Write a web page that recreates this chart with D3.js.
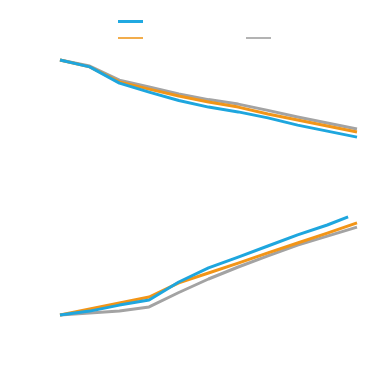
<!DOCTYPE html>
<html>
<head>
<meta charset="utf-8">
<script src="https://cdn.jsdelivr.net/npm/d3@7"></script>
<style>
  body { margin: 0; background: #fff; }
</style>
</head>
<body>
<div id="chart"></div>
<script>
const WIDTH = 376
const HEIGHT = 386

// x positions (years)
const years = [2000, 2002, 2004, 2006, 2008, 2010, 2012, 2014, 2016, 2018, 2020]
const blueUpYears = [2000, 2002, 2004, 2006, 2008, 2010, 2012, 2014, 2016, 2018, 2019.4]

// falling group
const grayDown = [100, 98, 93.3, 91, 88.7, 86.8, 85.3, 83.2, 81, 79, 77]
const orangeDown = [100, 97.7, 92.7, 90.3, 88, 86, 84.3, 82, 80, 78, 76]
const blueDown = [100, 97.7, 92.3, 89.3, 86.5, 84.3, 82.7, 80.7, 78.3, 76.3, 74.3]

// rising group
const grayUp = [15, 15.7, 16.3, 17.7, 22.5, 27, 31, 34.7, 38.3, 41.3, 44.3]
const orangeUp = [15, 17, 19, 21, 25.7, 29, 32.3, 35.7, 39, 42.3, 45.7]
const blueUp = [15, 16.3, 18.3, 20, 26, 30.7, 34.3, 38, 41.7, 45, 47.7]

const colors = { gray: '#a3a3a3', orange: '#f29517', blue: '#1ea6de' }

const series = [
  { key: 'gray', xs: years, ys: grayDown },
  { key: 'gray', xs: years, ys: grayUp },
  { key: 'orange', xs: years, ys: orangeDown },
  { key: 'orange', xs: years, ys: orangeUp },
  { key: 'blue', xs: years, ys: blueDown },
  { key: 'blue', xs: blueUpYears, ys: blueUp }
]

const svg = d3.select('#chart')
  .append('svg')
  .attr('width', WIDTH)
  .attr('height', HEIGHT)

const x = d3.scaleLinear().domain([2000, 2020]).range([60, 357])
const y = d3.scaleLinear().domain([0, 100]).range([360, 60])

const line = d3.line()
  .x(d => x(d[0]))
  .y(d => y(d[1]))
  .curve(d3.curveLinear)

svg.selectAll('.line')
  .data(series)
  .enter()
  .append('path')
  .attr('class', 'line')
  .attr('fill', 'none')
  .attr('stroke', d => colors[d.key])
  .attr('stroke-width', 3)
  .attr('stroke-linejoin', 'round')
  .attr('d', d => line(d3.zip(d.xs, d.ys)))

// legend swatches (labels are not visible in the original)
const legend = [
  { key: 'blue', x: 118, y: 21.5, h: 3, fill: '#20a9e1' },
  { key: 'orange', x: 118, y: 38, h: 2, fill: '#f2ad4c' },
  { key: 'gray', x: 246, y: 38, h: 2, fill: '#b3b3b3' }
]
svg.selectAll('.legend')
  .data(legend)
  .enter()
  .append('rect')
  .attr('class', 'legend')
  .attr('x', d => d.x)
  .attr('y', d => d.y - d.h / 2)
  .attr('width', 25)
  .attr('height', d => d.h)
  .attr('fill', d => d.fill)
</script>
</body>
</html>
